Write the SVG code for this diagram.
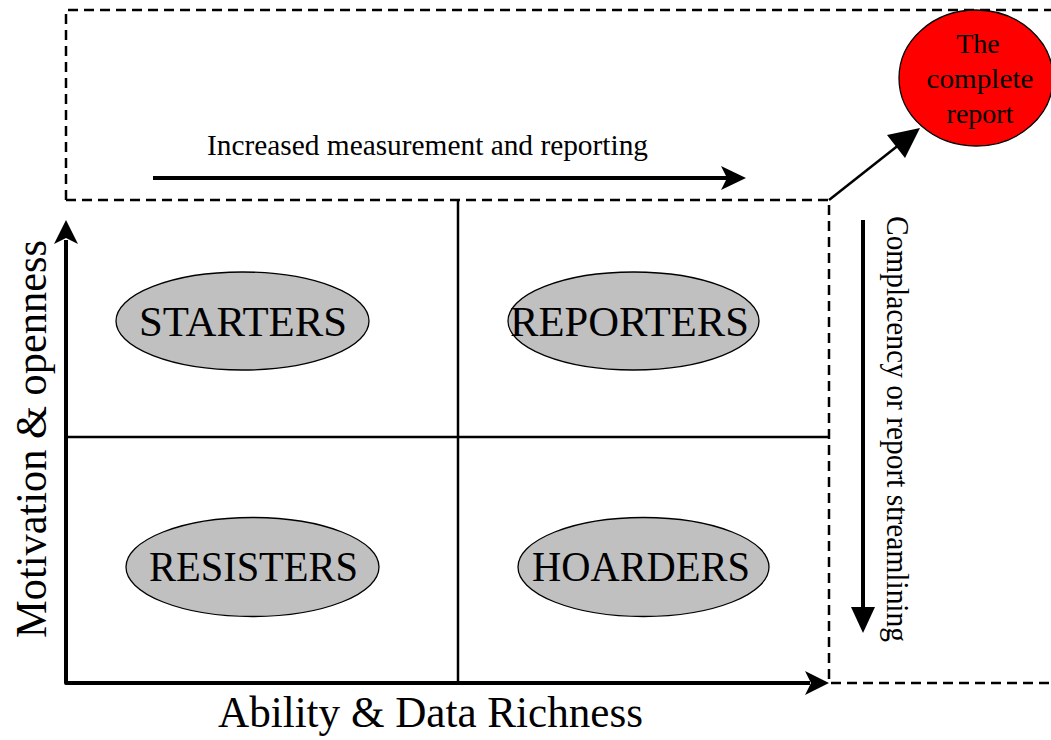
<svg xmlns="http://www.w3.org/2000/svg" width="1051" height="740" viewBox="0 0 1051 740">
<style>
.dash{fill:none;stroke:#000;stroke-width:2.5;stroke-dasharray:10 6}
.grid{fill:none;stroke:#000;stroke-width:2.5}
.axis{fill:none;stroke:#000;stroke-width:4;stroke-linejoin:round}
.head{fill:#000;stroke:none}
.quad{fill:#c0c0c0;stroke:#000;stroke-width:1.3}
.qt{font-family:"Times New Roman","Liberation Serif",serif;font-size:42px;fill:#000;text-anchor:middle}
.t{font-family:"Times New Roman","Liberation Serif",serif;fill:#000}
</style>
<rect width="1051" height="740" fill="#fff"/>
<g id="frame">
<path class="dash" d="M66,200 V10 H1051"/>
<path class="dash" d="M66,200 H829 V683 H1051"/>
</g>
<g id="grid">
<line class="grid" x1="66" y1="437" x2="829" y2="437"/>
<line class="grid" x1="458" y1="200" x2="458" y2="683"/>
</g>
<g id="connectors">
<path class="axis" d="M66,240 V683 H810"/>
<path class="head" d="M829,683 L805,671 L811,683 L805,695 Z"/>
<path class="head" d="M66,220 L54,244 L66,238 L78,244 Z"/>
<line class="axis" x1="153" y1="178" x2="730" y2="178"/>
<path class="head" d="M746,178 L721,166 L727,178 L721,190 Z"/>
<line x1="829" y1="200" x2="900" y2="144" stroke="#000" stroke-width="2.5"/>
<path class="head" d="M920,128 L887,135 L905,158 Z"/>
<line class="axis" x1="863" y1="220" x2="863" y2="610"/>
<path class="head" d="M863,633 L851,607 L875,607 Z"/>
</g>
<g id="starters">
<ellipse class="quad" cx="242.5" cy="321" rx="126.5" ry="49"/>
<text class="qt" x="243" y="336" textLength="208" lengthAdjust="spacingAndGlyphs">STARTERS</text>
</g>
<g id="reporters">
<ellipse class="quad" cx="633.5" cy="321" rx="125.5" ry="49"/>
<text class="qt" x="629.5" y="336" textLength="239" lengthAdjust="spacingAndGlyphs">REPORTERS</text>
</g>
<g id="resisters">
<ellipse class="quad" cx="252.5" cy="567" rx="126.5" ry="49.5"/>
<text class="qt" x="253.5" y="581" textLength="209" lengthAdjust="spacingAndGlyphs">RESISTERS</text>
</g>
<g id="hoarders">
<ellipse class="quad" cx="643.5" cy="567" rx="125.5" ry="49.5"/>
<text class="qt" x="641" y="581" textLength="218" lengthAdjust="spacingAndGlyphs">HOARDERS</text>
</g>
<g id="complete-report">
<ellipse cx="976" cy="78" rx="77" ry="68" fill="#ff0000" stroke="#000" stroke-width="1.3"/>
<text class="t" font-size="28" text-anchor="middle" x="978" y="53">The</text>
<text class="t" font-size="28" text-anchor="middle" x="980" y="88" textLength="107" lengthAdjust="spacingAndGlyphs">complete</text>
<text class="t" font-size="28" text-anchor="middle" x="980" y="123">report</text>
</g>
<g id="labels">
<text class="t" font-size="30" x="207" y="155" textLength="441" lengthAdjust="spacingAndGlyphs">Increased measurement and reporting</text>
<text class="t" font-size="31" transform="translate(887,216) rotate(90)" textLength="426" lengthAdjust="spacingAndGlyphs">Complacency or report streamlining</text>
<text class="t" font-size="45" transform="translate(46,638) rotate(-90)" textLength="398" lengthAdjust="spacingAndGlyphs">Motivation &amp; openness</text>
<text class="t" font-size="45" x="218" y="727" textLength="425" lengthAdjust="spacingAndGlyphs">Ability &amp; Data Richness</text>
</g>
</svg>
